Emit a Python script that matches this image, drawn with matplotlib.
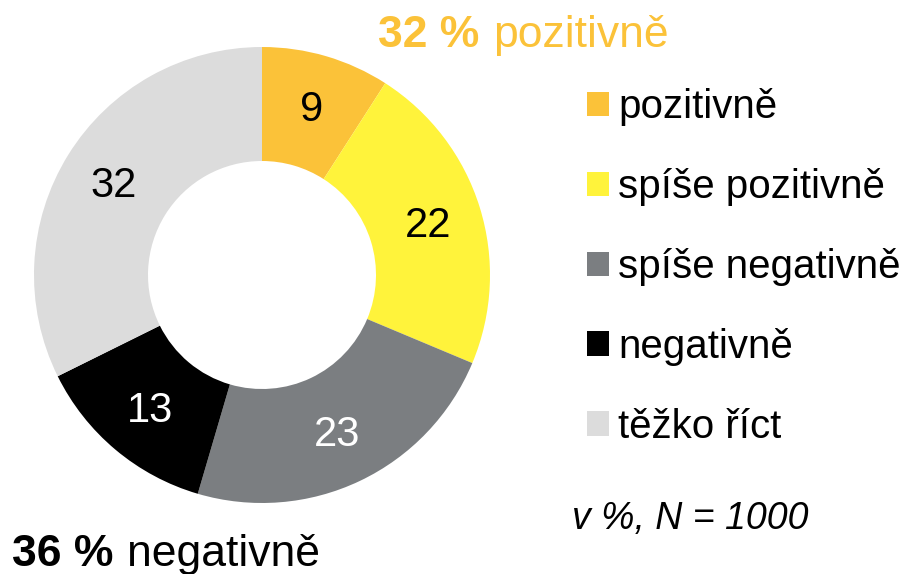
import matplotlib
matplotlib.use("Agg")
import matplotlib.pyplot as plt
import numpy as np

plt.rcParams['font.family'] = ['Liberation Sans', 'DejaVu Sans']

# data
categories = ['pozitivně', 'spíše pozitivně', 'spíše negativně', 'negativně', 'těžko říct']
values = [9, 22, 23, 13, 32]
colors = ['#FBC239', '#FFF33B', '#7B7E81', '#000000', '#DCDCDC']
label_colors = ['black', 'black', 'white', 'white', 'black']
pos_total = '32 %'
neg_total = '36 %'
note = 'v %, N = 1000'

W, H = 908, 574
fig = plt.figure(figsize=(W / 100, H / 100), dpi=100)

# donut: center (262, 275) px, outer radius 228 px
cx, cy, r = 262, 275, 228
ax = fig.add_axes([(cx - r) / W, (H - cy - r) / H, 2 * r / W, 2 * r / H])
wedges, _ = ax.pie(values, colors=colors, startangle=90, counterclock=False,
                   radius=1, wedgeprops=dict(width=0.5, linewidth=0))
ax.set_xlim(-1, 1)
ax.set_ylim(-1, 1)
ax.set_aspect('equal')
ax.axis('off')

for w, v, c in zip(wedges, values, label_colors):
    ang = np.deg2rad((w.theta1 + w.theta2) / 2)
    ax.text(0.765 * np.cos(ang), 0.765 * np.sin(ang) - 0.012, str(v), ha='center',
            va='center', fontsize=30, color=c)

# legend
fig.legend(wedges, categories, loc='upper left', bbox_to_anchor=(571 / W, 1 - 72 / H),
           frameon=False, fontsize=29, handlelength=0.55, handleheight=0.55,
           handletextpad=0.22, labelspacing=1.04, borderaxespad=0)

# summary texts
fig.text(378 / W, 1 - 47 / H, pos_total, fontsize=32, fontweight='bold',
         color='#FBC239', va='baseline')
fig.text(493 / W, 1 - 47 / H, 'pozitivně', fontsize=32, color='#FBC239', va='baseline')
fig.text(12 / W, 1 - 566 / H, neg_total, fontsize=32, fontweight='bold',
         color='black', va='baseline')
fig.text(127 / W, 1 - 566 / H, 'negativně', fontsize=32, color='black', va='baseline')
fig.text(572 / W, 1 - 529 / H, note, fontsize=27, style='italic', va='baseline')

fig.savefig('out.png', dpi=100)
